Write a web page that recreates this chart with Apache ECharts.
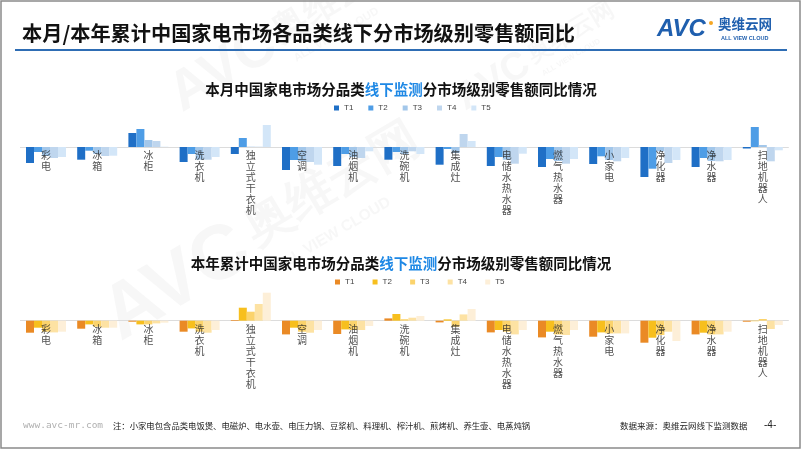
<!DOCTYPE html>
<html><head><meta charset="utf-8">
<script src="https://cdn.jsdelivr.net/npm/echarts@6/dist/echarts.min.js"></script>
<style>html,body{margin:0;padding:0;background:#fff}#c{width:802px;height:451px}</style>
</head><body><div id="c"></div>
<script>
const categories = ['彩电','冰箱','冰柜','洗衣机','独立式干衣机','空调','油烟机','洗碗机','集成灶','电储水热水器','燃气热水器','小家电','净化器','净水器','扫地机器人'];
const seriesNames = ['T1','T2','T3','T4','T5'];
// 本月 (monthly) YoY, estimated
const monthT1 = [-16,-12.7,14,-15,-7,-23,-19,-12.7,-17.7,-19,-20,-17,-30,-20,-1.5];
const monthT2 = [-5,-3.7,18,-7,9,-13,-7,-5,-2,-10,-12,-9.3,-21.7,-11,20];
const monthT3 = [-9,-7,7,-12.7,0.3,-14,-10,-7,-6,-12.7,-14,-13,-4.3,-14,2];
const monthT4 = [-11,-9,6,-12.7,0.3,-15,-11,-4.3,13,-16.7,-16.7,-14.3,-16,-14.3,-14.3];
const monthT5 = [-10,-8.7,0.3,-10,22,-17.7,-4.3,-7,6,-6.7,-12,-11,-13,-13,-3.3];
// 本年累计 (YTD) YoY, estimated
const ytdT1 = [-12,-8,-1,-11,0.7,-13.7,-13.3,2.3,-1.7,-11.7,-16.7,-16,-22,-13.7,-1];
const ytdT2 = [-7,-3.7,-3.7,-7.7,13,-7,-8.7,6.7,1.3,-9.3,-11,-11.7,-17,-12,-0.5];
const ytdT3 = [-11,-6,-3.7,-11,9,-11,-9.3,1.5,-6,-11,-13.7,-12.7,-14.3,-13.7,1.7];
const ytdT4 = [-11.7,-7,-2.7,-12,16.7,-12,-9.3,3,6.3,-13.7,-14.3,-12.7,-11,-13.7,-8.3];
const ytdT5 = [-11,-7,-2,-9.3,28,-9.3,-5.3,4.7,11.7,-9.3,-9.3,-12.7,-20.3,-11,-4.3];

const blueColors = ['#1f6fc6','#4e9de6','#a3c7ea','#bfd6ee','#d3e6f8'];
const orangeColors = ['#ea8a25','#f7bf1e','#fbd36c','#fde2a3','#fdefd8'];

const monthData = [monthT1,monthT2,monthT3,monthT4,monthT5];
const ytdData = [ytdT1,ytdT2,ytdT3,ytdT4,ytdT5];

function xAx(gi){
  return {type:'category', gridIndex:gi, data:categories,
    axisLine:{onZero:true, lineStyle:{color:'#dcdcdc', width:1}},
    axisTick:{show:false}, axisLabel:{show:false}};
}
function yAx(gi){
  return {type:'value', gridIndex:gi, min:-40, max:40, show:false, splitLine:{show:false}};
}
const series = [];
seriesNames.forEach((n,i)=>{
  series.push({name:n, type:'bar', xAxisIndex:0, yAxisIndex:0, data:monthData[i], barWidth:8, barGap:'0%',
    itemStyle:{color:blueColors[i]}});
});
seriesNames.forEach((n,i)=>{
  series.push({name:n+' ', type:'bar', xAxisIndex:1, yAxisIndex:1, data:ytdData[i], barWidth:8, barGap:'0%',
    itemStyle:{color:orangeColors[i]}});
});
// category labels anchored on the zero line
[0,1].forEach(gi=>{
  series.push({type:'scatter', xAxisIndex:gi, yAxisIndex:gi, symbolSize:0, z:20, silent:true,
    data:categories.map(c=>({name:c, value:[c,0]})),
    label:{show:true, position:'bottom', distance:3, formatter:p=>p.name.split('').join('\n'),
      fontSize:10, lineHeight:11, color:'#222', fontFamily:'Noto Sans CJK SC', align:'center'}});
});

const wmStyle = {fill:'rgba(190,190,190,0.12)', fontFamily:'Liberation Sans', fontWeight:'bold'};
function wm(x,y,s){
  return {type:'group', x:x, y:y, scaleX:s, scaleY:s, rotation:Math.PI*0.17, silent:true, z:0, children:[
    {type:'text', style:Object.assign({text:'AVC', fontSize:70, x:0, y:0}, wmStyle)},
    {type:'text', style:Object.assign({text:'奥维云网', fontSize:44, x:150, y:8, fontFamily:'Noto Sans CJK SC'}, wmStyle)},
    {type:'text', style:Object.assign({text:'ALL VIEW CLOUD', fontSize:14, x:155, y:62}, wmStyle)}
  ]};
}

const chart = echarts.init(document.getElementById('c'), null, {renderer:'canvas'});
chart.setOption({
  animation:false,
  backgroundColor:'#fff',
  title:[
    {text:'本月中国家电市场分品类{b|线下监测}分市场级别零售额同比情况', left:'center', top:77,
     textStyle:{fontSize:14.5, fontWeight:'bold', color:'#111', fontFamily:'Noto Sans CJK SC',
       rich:{b:{fontSize:14.5, fontWeight:'bold', color:'#1e88e5', fontFamily:'Noto Sans CJK SC'}}}},
    {text:'本年累计中国家电市场分品类{b|线下监测}分市场级别零售额同比情况', left:'center', top:251,
     textStyle:{fontSize:14.5, fontWeight:'bold', color:'#111', fontFamily:'Noto Sans CJK SC',
       rich:{b:{fontSize:14.5, fontWeight:'bold', color:'#1e88e5', fontFamily:'Noto Sans CJK SC'}}}}
  ],
  legend:[
    {data:seriesNames, top:99, left:329, itemWidth:5, itemHeight:5, itemGap:15, icon:'rect',
     textStyle:{fontSize:8, color:'#444', fontFamily:'Liberation Sans'}},
    {data:seriesNames.map(n=>n+' '), top:273, left:330, itemWidth:5, itemHeight:5, itemGap:16, icon:'rect',
     textStyle:{fontSize:8, color:'#444', fontFamily:'Liberation Sans'}}
  ],
  grid:[
    {left:20.4, width:768, top:107, height:80},
    {left:20.4, width:768, top:280.7, height:80}
  ],
  xAxis:[xAx(0), xAx(1)],
  yAxis:[yAx(0), yAx(1)],
  series:series,
  graphic:[
    wm(160,75,0.8), wm(450,85,0.55), wm(90,290,1.1),
    {type:'rect', shape:{x:1, y:1, width:799, height:447}, style:{fill:'none', stroke:'#8a8a8a', lineWidth:1.5}, silent:true},
    {type:'text', x:22, y:23, style:{text:'本月/本年累计中国家电市场各品类线下分市场级别零售额同比', fontSize:20.2, fontWeight:'bold', fill:'#111', fontFamily:'Noto Sans CJK SC'}},
    {type:'line', shape:{x1:15, y1:50, x2:787, y2:50}, style:{stroke:'#2e6db4', lineWidth:2}},
    {type:'text', x:657, y:17, style:{text:'AVC', fontSize:24, fontWeight:'bold', fontStyle:'italic', fill:'#1f5fae', fontFamily:'Liberation Sans'}},
    {type:'circle', shape:{cx:711, cy:23, r:2}, style:{fill:'#f5a623'}},
    {type:'text', x:718, y:17, style:{text:'奥维云网', fontSize:13.5, fontWeight:'bold', fill:'#1f5fae', fontFamily:'Noto Sans CJK SC'}},
    {type:'text', x:721, y:35, style:{text:'ALL VIEW CLOUD', fontSize:5.5, fontWeight:'bold', fill:'#1f5fae', fontFamily:'Liberation Sans'}},
    {type:'text', x:23, y:421, style:{text:'www.avc-mr.com', fontSize:9.5, fill:'#b0b0b0', fontFamily:'DejaVu Sans Mono'}},
    {type:'text', x:113, y:422, style:{text:'注：小家电包含品类电饭煲、电磁炉、电水壶、电压力锅、豆浆机、料理机、榨汁机、煎烤机、养生壶、电蒸炖锅', fontSize:8.35, fill:'#222', fontFamily:'Noto Sans CJK SC'}},
    {type:'text', x:620, y:422, style:{text:'数据来源：奥维云网线下监测数据', fontSize:8.5, fill:'#222', fontFamily:'Noto Sans CJK SC'}},
    {type:'text', x:764, y:420, style:{text:'-4-', fontSize:10, fill:'#222', fontFamily:'Liberation Sans'}}
  ]
});
</script></body></html>
